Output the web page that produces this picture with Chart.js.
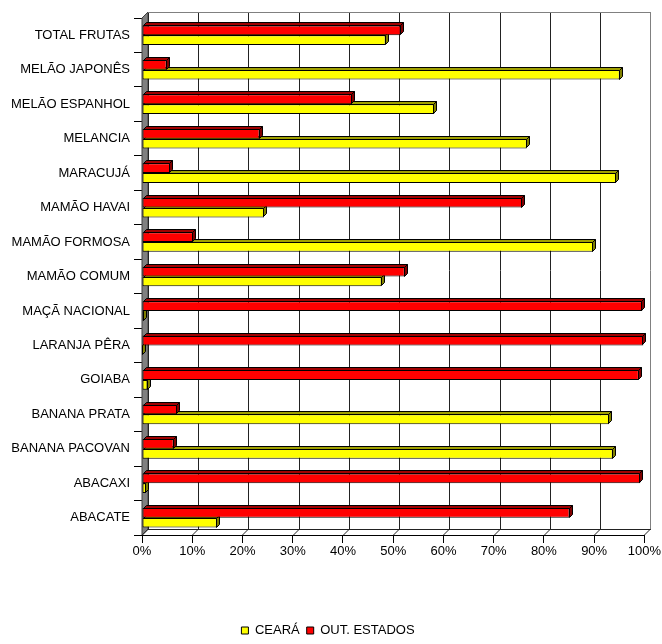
<!DOCTYPE html>
<html>
<head>
<meta charset="utf-8">
<title>Participação por origem</title>
<script src="https://cdn.jsdelivr.net/npm/chart.js@4/dist/chart.umd.min.js"></script>
<style>
  html, body { margin: 0; padding: 0; background: #fff; }
  #wrap { width: 662px; height: 644px; }
</style>
</head>
<body>
<div id="wrap"><canvas id="origemChart" width="662" height="644"></canvas></div>
<script>
// categorias de cima para baixo
const categorias = [
    'TOTAL FRUTAS', 'MELÃO JAPONÊS', 'MELÃO ESPANHOL', 'MELANCIA', 'MARACUJÁ',
    'MAMÃO HAVAI', 'MAMÃO FORMOSA', 'MAMÃO COMUM', 'MAÇÃ NACIONAL', 'LARANJA PÊRA',
    'GOIABA', 'BANANA PRATA', 'BANANA PACOVAN', 'ABACAXI', 'ABACATE'
];

// participação (%) de cada origem
const outEstados = [51.5, 4.9, 41.8, 23.4, 5.6, 75.7, 10.2, 52.3, 99.6, 99.8, 98.9, 7.0, 6.3, 99.2, 85.1];
const ceara      = [48.5, 95.1, 58.2, 76.6, 94.4, 24.3, 89.8, 47.7, 0.4, 0.2, 1.1, 93.0, 93.7, 0.8, 14.9];

const rotulosX = ['0%', '10%', '20%', '30%', '40%', '50%', '60%', '70%', '80%', '90%', '100%'];

const FONTE = "'Liberation Sans', Arial, sans-serif";
const PX = 6, PY = 6;   // profundidade da parede do fundo
const BD = 3;           // profundidade das barras

// parede do fundo, parede lateral cinza e piso
const paredes = {
    id: 'paredes',
    beforeDatasetsDraw(chart) {
        const { ctx, chartArea: a, scales: { x } } = chart;
        const topo = a.top - PY, fundo = a.bottom - PY;
        ctx.save();
        ctx.lineWidth = 1;

        // parede lateral
        ctx.fillStyle = '#808080';
        ctx.strokeStyle = '#404040';
        ctx.beginPath();
        ctx.moveTo(a.left, a.top);
        ctx.lineTo(a.left + PX, topo);
        ctx.lineTo(a.left + PX, fundo);
        ctx.lineTo(a.left, a.bottom);
        ctx.closePath();
        ctx.fill();
        ctx.stroke();

        // linhas de grade no fundo + diagonais do piso
        x.ticks.forEach((t, i) => {
            const xf = Math.round(x.getPixelForTick(i)) + 0.5;
            const xb = xf + PX;
            ctx.strokeStyle = i === x.ticks.length - 1 ? '#808080' : '#222';
            ctx.beginPath();
            ctx.moveTo(xb, topo);
            ctx.lineTo(xb, fundo);
            ctx.stroke();
            ctx.strokeStyle = '#222';
            ctx.beginPath();
            ctx.moveTo(xf, a.bottom);
            ctx.lineTo(xb, fundo);
            ctx.stroke();
        });

        // borda superior do fundo
        ctx.strokeStyle = '#808080';
        ctx.beginPath();
        ctx.moveTo(a.left + PX, topo + 0.5);
        ctx.lineTo(a.right + PX + 0.5, topo + 0.5);
        ctx.stroke();

        // borda de trás do piso
        ctx.strokeStyle = '#222';
        ctx.beginPath();
        ctx.moveTo(a.left + PX, fundo + 0.5);
        ctx.lineTo(a.right + PX + 0.5, fundo + 0.5);
        ctx.stroke();
        ctx.restore();
    },
    // faces superior e lateral de cada barra
    afterDatasetDraw(chart, args) {
        const { ctx } = chart;
        const ds = chart.data.datasets[args.index];
        ctx.save();
        ctx.lineWidth = 1;
        ctx.strokeStyle = '#000';
        args.meta.data.forEach(el => {
            const { x, y, base, height } = el.getProps(['x', 'y', 'base', 'height'], true);
            const t = Math.round(y - height / 2) + 0.5;
            const b = Math.round(y + height / 2) - 0.5;
            const xv = Math.round(x) - 0.5;
            const x0 = Math.round(base) + 0.5;

            ctx.fillStyle = ds.corTopo;
            ctx.beginPath();
            ctx.moveTo(x0, t);
            ctx.lineTo(x0 + BD, t - BD);
            ctx.lineTo(xv + BD, t - BD);
            ctx.lineTo(xv, t);
            ctx.closePath();
            ctx.fill();
            ctx.stroke();

            ctx.fillStyle = ds.corLado;
            ctx.beginPath();
            ctx.moveTo(xv, t);
            ctx.lineTo(xv + BD, t - BD);
            ctx.lineTo(xv + BD, b - BD);
            ctx.lineTo(xv, b);
            ctx.closePath();
            ctx.fill();
            ctx.stroke();
        });
        ctx.restore();
    }
};

const ctx = document.getElementById('origemChart').getContext('2d');

new Chart(ctx, {
    type: 'bar',
    data: {
        labels: categorias,
        datasets: [
            {
                label: 'OUT. ESTADOS',
                data: outEstados,
                backgroundColor: '#ff0000',
                borderColor: '#000',
                borderWidth: 1,
                borderSkipped: false,
                corTopo: '#a00000',
                corLado: '#800000'
            },
            {
                label: 'CEARÁ',
                data: ceara,
                backgroundColor: '#ffff00',
                borderColor: '#000',
                borderWidth: 1,
                borderSkipped: false,
                corTopo: '#a0a000',
                corLado: '#808000'
            }
        ]
    },
    options: {
        indexAxis: 'y',
        responsive: false,
        animation: false,
        events: [],
        categoryPercentage: 0.57,
        barPercentage: 1.0,
        layout: {
            padding: { left: 10, right: 16, top: 18, bottom: -3 }
        },
        plugins: {
            legend: {
                position: 'bottom',
                reverse: true,
                labels: {
                    boxWidth: 7,
                    boxHeight: 7,
                    padding: 7,
                    color: '#000',
                    font: { family: FONTE, size: 13 }
                }
            },
            tooltip: { enabled: false }
        },
        scales: {
            x: {
                min: 0,
                max: 100,
                afterFit(scale) { scale.height = 82; },
                grid: {
                    drawOnChartArea: false,
                    drawTicks: true,
                    tickLength: 8,
                    color: '#000'
                },
                border: { display: true, color: '#000' },
                ticks: {
                    stepSize: 10,
                    padding: 1,
                    color: '#000',
                    font: { family: FONTE, size: 13 },
                    maxRotation: 0,
                    callback: (v, i) => rotulosX[i]
                }
            },
            y: {
                afterFit(scale) { scale.width = 132; },
                grid: {
                    drawOnChartArea: false,
                    drawTicks: true,
                    tickLength: 8,
                    color: '#000'
                },
                border: { display: true, color: '#000' },
                ticks: {
                    padding: 4,
                    color: '#000',
                    font: { family: FONTE, size: 13 }
                }
            }
        }
    },
    plugins: [paredes]
});
</script>
</body>
</html>
